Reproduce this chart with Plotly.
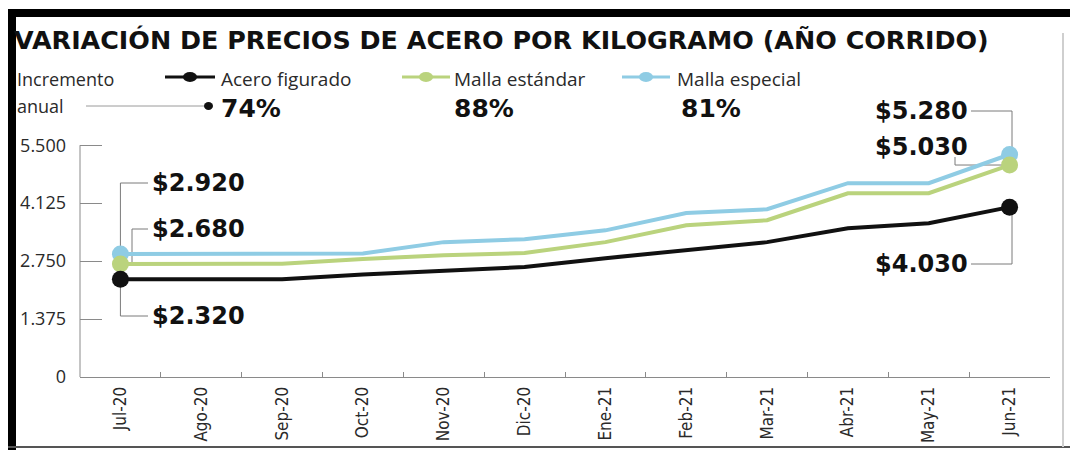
"""Variación de precios de acero por kilogramo (año corrido)."""
import plotly.graph_objects as go

months = ["Jul-20", "Ago-20", "Sep-20", "Oct-20", "Nov-20", "Dic-20",
          "Ene-21", "Feb-21", "Mar-21", "Abr-21", "May-21", "Jun-21"]
acero_figurado = [2320, 2320, 2320, 2430, 2510, 2610, 2820, 3010, 3200, 3530, 3650, 4030]
malla_estandar = [2680, 2680, 2690, 2800, 2890, 2940, 3200, 3600, 3720, 4360, 4360, 5030]
malla_especial = [2920, 2920, 2920, 2930, 3200, 3270, 3480, 3890, 3980, 4600, 4600, 5280]
y_ticks = [0, 1375, 2750, 4125, 5500]
y_ticktext = ["0", "1.375", "2.750", "4.125", "5.500"]

BLACK = "#111111"
GREEN = "#bad37d"
BLUE = "#8fcce4"
GRAY = "#7a7a7a"
TEXT = "#2a2a2a"

W, H = 1070, 450
L, R, T, B = 80, 20, 82, 73
Y_MAX = 7000


# pixel helpers for layout pieces (labels, connectors, header)
def dx(px):
    return (px - L) / (W - L - R) * 12 - 0.5


def dy(py):
    return (H - B - py) * Y_MAX / (H - T - B)


def xp(px):
    return (px - L) / (W - L - R)


def yp(py):
    return (H - B - py) / (H - T - B)


def money(v):
    return "$" + f"{v:,}".replace(",", ".")


def pct(series):
    return f"{round((series[-1] / series[0] - 1) * 100)}%"


series = [("Malla especial", malla_especial, BLUE),
          ("Malla estándar", malla_estandar, GREEN),
          ("Acero figurado", acero_figurado, BLACK)]

fig = go.Figure()
for name, vals, col in series:
    fig.add_trace(go.Scatter(x=months, y=vals, mode="lines", name=name,
                             line=dict(color=col, width=4), hoverinfo="skip"))
for name, vals, col in series:
    fig.add_trace(go.Scatter(x=[months[0], months[-1]], y=[vals[0], vals[-1]], mode="markers",
                             marker=dict(color=col, size=17), cliponaxis=False, hoverinfo="skip"))

shapes = []


def seg(x0, y0, x1, y1):
    shapes.append(dict(type="line", xref="x", yref="y", x0=x0, y0=y0, x1=x1, y1=y1,
                       line=dict(color=GRAY, width=1), layer="below"))


def pseg(x0, y0, x1, y1, color, width):
    shapes.append(dict(type="line", xref="paper", yref="paper", x0=xp(x0), y0=yp(y0),
                       x1=xp(x1), y1=yp(y1), line=dict(color=color, width=width)))


# y axis line only up to 5.500
shapes.append(dict(type="line", xref="paper", yref="y", x0=0, x1=0, y0=0, y1=y_ticks[-1],
                   line=dict(color="#8a8a8a", width=1)))

# connectors, left side
seg(0, malla_especial[0], 0, dy(183)); seg(0, dy(183), dx(148), dy(183))
seg(dx(132), malla_estandar[0], dx(132), dy(229)); seg(dx(132), dy(229), dx(148), dy(229))
seg(0, acero_figurado[0], 0, dy(316)); seg(0, dy(316), dx(148), dy(316))
# connectors, right side
seg(dx(1012), malla_especial[-1], dx(1012), dy(111)); seg(dx(1012), dy(111), dx(971), dy(111))
seg(dx(955), dy(157), dx(955), malla_estandar[-1]); seg(dx(955), malla_estandar[-1], 11, malla_estandar[-1])
seg(dx(1012), acero_figurado[-1], dx(1012), dy(264)); seg(dx(1012), dy(264), dx(971), dy(264))

# header legend symbols
for (x0, x1), col in [((165, 215), BLACK), ((402, 450), GREEN), ((622, 670), BLUE)]:
    pseg(x0, 77, x1, 77, col, 3)
    cx = (x0 + x1) / 2
    shapes.append(dict(type="circle", xref="paper", yref="paper", x0=xp(cx - 7), x1=xp(cx + 7),
                       y0=yp(82), y1=yp(72), fillcolor=col, line=dict(width=0)))
pseg(86, 106, 204, 106, "#9a9a9a", 1)
shapes.append(dict(type="circle", xref="paper", yref="paper", x0=xp(204), x1=xp(213),
                   y0=yp(110), y1=yp(102), fillcolor=BLACK, line=dict(width=0)))

# frame
shapes.append(dict(type="rect", xref="paper", yref="paper", x0=xp(8), x1=xp(1072), y0=yp(17), y1=yp(9),
                   fillcolor="black", line=dict(width=0)))
shapes.append(dict(type="rect", xref="paper", yref="paper", x0=xp(8), x1=xp(16), y0=yp(452), y1=yp(9),
                   fillcolor="black", line=dict(width=0)))
pseg(8, 447, 1072, 447, "#555555", 2)
pseg(1063, 33, 1063, 447, "#cfcfcf", 2)

BOLD = dict(family="DejaVu Sans", size=24, color=BLACK, weight="bold")
ann = []


def label(x, y, text, anchor):
    ann.append(dict(x=x, y=y, xref="x", yref="y", text=text, showarrow=False,
                    xanchor=anchor, yanchor="middle", font=BOLD))


label(dx(150), dy(183), money(malla_especial[0]), "left")
label(dx(150), dy(229), money(malla_estandar[0]), "left")
label(dx(150), dy(316), money(acero_figurado[0]), "left")
label(dx(970), dy(111), money(malla_especial[-1]), "right")
label(dx(970), dy(147), money(malla_estandar[-1]), "right")
label(dx(970), dy(264), money(acero_figurado[-1]), "right")


def ptext(px, py, text, font, anchor="left"):
    ann.append(dict(x=xp(px), y=yp(py), xref="paper", yref="paper", text=text, showarrow=False,
                    xanchor=anchor, yanchor="middle", font=font))


ptext(12, 40, "VARIACIÓN DE PRECIOS DE ACERO POR KILOGRAMO (AÑO CORRIDO)",
      dict(family="DejaVu Sans", size=25.4, color=BLACK, weight="bold"))
REG = dict(family="Open Sans", size=19, color=TEXT)
ptext(15, 79, "Incremento", dict(REG, size=18))
ptext(15, 106, "anual", dict(REG, size=18))
ptext(219, 79, "Acero figurado", REG)
ptext(452, 79, "Malla estándar", REG)
ptext(675, 79, "Malla especial", REG)
PB = dict(family="DejaVu Sans", size=25, color=BLACK, weight="bold")
ptext(219, 108, pct(acero_figurado), PB)
ptext(452, 108, pct(malla_estandar), PB)
ptext(679, 108, pct(malla_especial), PB)

fig.update_layout(
    width=W, height=H, margin=dict(l=L, r=R, t=T, b=B),
    paper_bgcolor="white", plot_bgcolor="white", showlegend=False,
    shapes=shapes, annotations=ann,
)
fig.update_xaxes(type="category", range=[-0.5, 11.5], tickson="boundaries", ticks="inside",
                 ticklen=5, tickcolor="#8a8a8a", showline=True, linecolor="#8a8a8a", linewidth=1,
                 showgrid=False, zeroline=False, tickangle=-90, ticklabelstandoff=2,
                 automargin=False,
                 tickfont=dict(family="DejaVu Sans Condensed, Roboto", size=17, color=TEXT))
fig.update_yaxes(range=[0, Y_MAX], tickvals=y_ticks, ticktext=y_ticktext, ticks="inside",
                 ticklen=22, tickcolor="#8a8a8a", showline=False, showgrid=False, zeroline=False,
                 ticklabelstandoff=13, automargin=False,
                 tickfont=dict(family="Open Sans", size=18, color=TEXT))

fig.write_html("out.html", config={"displayModeBar": False},
               post_script="document.body.style.margin='0';")
